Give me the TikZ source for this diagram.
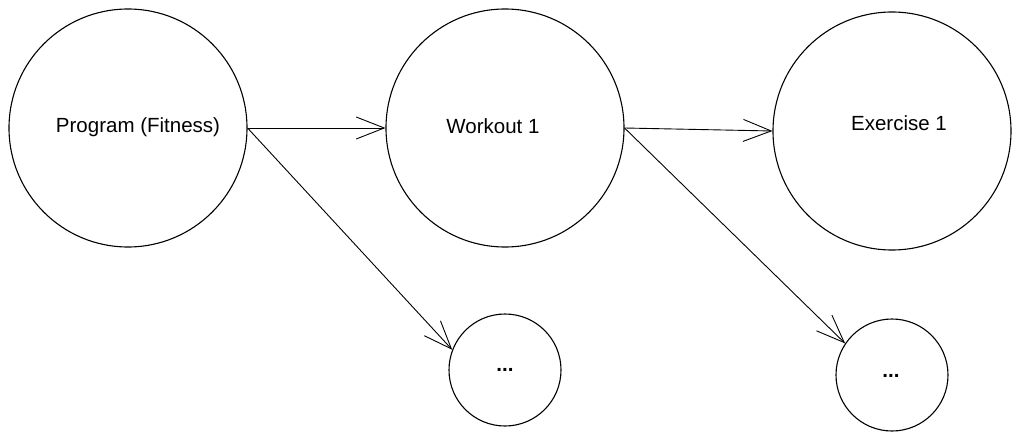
\documentclass[tikz,border=0pt]{standalone}
\usepackage{fontspec}
\setmainfont{Liberation Sans}
\usetikzlibrary{arrows.meta}
\begin{document}
\begin{tikzpicture}[x=1pt,y=-1pt,
  bubble/.style={draw, circle, line width=1.1pt, inner sep=0pt},
  big/.style={bubble, minimum size=238pt},
  small/.style={bubble, minimum size=112pt},
  label/.style={font=\fontsize{20.5}{24}\selectfont, inner sep=0pt},
  link/.style={line width=0.9pt, -{Straight Barb[length=28pt,width=22pt,line width=0.9pt]}}]
\path[use as bounding box, fill=white] (0,0) rectangle (1020,441);
\node[big] (p) at (128,128) {};
\node[big] (w) at (505,128) {};
\node[big] (e) at (892,131) {};
\node[small] (s1) at (505,370) {};
\node[small] (s2) at (892,375) {};
\node[label] (pt) at (138,127) {Program (Fitness)};
\node[label] (wt) at (493,126) {Workout 1};
\node[label] (et) at (899,123) {Exercise 1};
\node[label] (s1t) at (505,370) {\textbf{...}};
\node[label] (s2t) at (891,376) {\textbf{...}};
\draw[link] (p.east) -- (w.west);
\draw[link] (p.east) -- (s1.159);
\draw[link] (w.east) -- (e.west);
\draw[link] (w.east) -- (s2.146);
\end{tikzpicture}
\end{document}
